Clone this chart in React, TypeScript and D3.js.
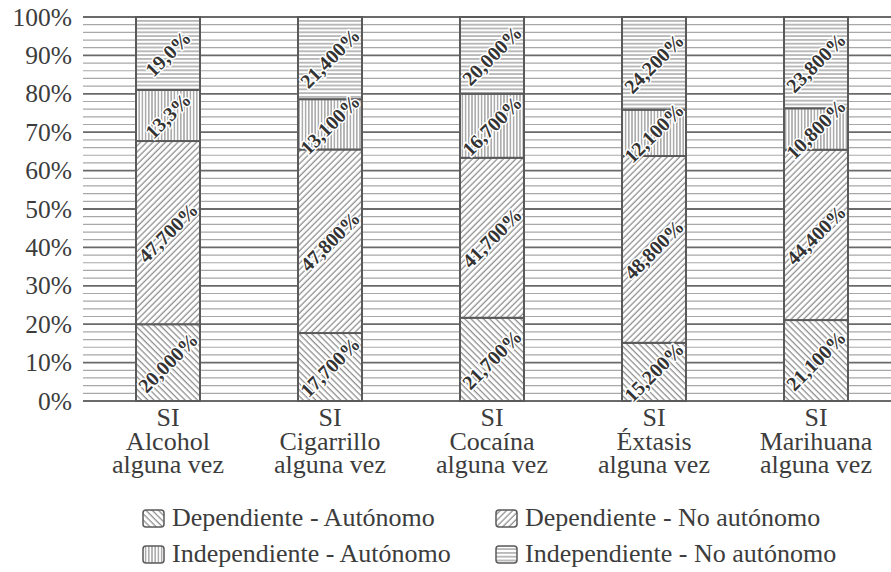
import * as d3 from 'd3';

const categories = ['Alcohol', 'Cigarrillo', 'Cocaína', 'Éxtasis', 'Marihuana'];
const catPrefix = 'SI';
const catSuffix = 'alguna vez';

const seriesNames = [
  'Dependiente - Autónomo',
  'Dependiente - No autónomo',
  'Independiente - Autónomo',
  'Independiente - No autónomo',
];

const depAut = [20.0, 17.7, 21.7, 15.2, 21.1];
const depNoAut = [47.7, 47.8, 41.7, 48.8, 44.4];
const indepAut = [13.3, 13.1, 16.7, 12.1, 10.8];
const indepNoAut = [19.0, 21.4, 20.0, 24.2, 23.8];

const depAutLabels = ['20,000%', '17,700%', '21,700%', '15,200%', '21,100%'];
const depNoAutLabels = ['47,700%', '47,800%', '41,700%', '48,800%', '44,400%'];
const indepAutLabels = ['13,3%', '13,100%', '16,700%', '12,100%', '10,800%'];
const indepNoAutLabels = ['19,0%', '21,400%', '20,000%', '24,200%', '23,800%'];

const yTicks = [0, 10, 20, 30, 40, 50, 60, 70, 80, 90, 100];

const W = 891;
const H = 572;
const FONT = "'Liberation Serif', 'Times New Roman', Times, serif";
const TEXT = '#3c3c3c';
const HATCH = '#909090';
const EDGE = '#5a5a5a';

const patternIds = ['pDepAut', 'pDepNoAut', 'pIndAut', 'pIndNoAut'];

export default function App() {
  const plot = { left: 83, right: 891, top: 17, bottom: 401 };

  const rows = categories.map((c, i) => ({
    cat: c,
    s0: depAut[i],
    s1: depNoAut[i],
    s2: indepAut[i],
    s3: indepNoAut[i],
  }));
  const keys = ['s0', 's1', 's2', 's3'];
  const labels = [depAutLabels, depNoAutLabels, indepAutLabels, indepNoAutLabels];

  const stacked = d3.stack<any>().keys(keys).offset(d3.stackOffsetExpand)(rows);

  const x = d3
    .scaleBand<string>()
    .domain(categories)
    .range([87, 897])
    .paddingInner(0.605)
    .paddingOuter(0.3025);

  const y = d3.scaleLinear().domain([0, 1]).range([plot.bottom, plot.top]);
  const yPct = d3.scaleLinear().domain([0, 100]).range([plot.bottom, plot.top]);

  const minorTicks = d3.range(0, 101, 2).filter((v) => v % 10 !== 0);

  const legendItems = [
    { i: 0, x: 143, y: 526 },
    { i: 1, x: 496, y: 526 },
    { i: 2, x: 143, y: 562 },
    { i: 3, x: 496, y: 562 },
  ];

  const txt = { fontFamily: FONT };

  return (
    <svg
      width={W}
      height={H}
      style={{ position: 'absolute', left: 0, top: 0, background: '#fff', fontFamily: FONT }}
    >
      <defs>
        <pattern id="pDepAut" patternUnits="userSpaceOnUse" width={4.4} height={4.4} patternTransform="rotate(-45)">
          <rect width={4.4} height={4.4} fill="#fff" />
          <line x1={2} y1={0} x2={2} y2={4.4} stroke={HATCH} strokeWidth={1.3} />
        </pattern>
        <pattern id="pDepNoAut" patternUnits="userSpaceOnUse" width={4.4} height={4.4} patternTransform="rotate(45)">
          <rect width={4.4} height={4.4} fill="#fff" />
          <line x1={2} y1={0} x2={2} y2={4.4} stroke={HATCH} strokeWidth={1.3} />
        </pattern>
        <pattern id="pIndAut" patternUnits="userSpaceOnUse" width={3.2} height={4}>
          <rect width={3.2} height={4} fill="#fff" />
          <line x1={1.6} y1={0} x2={1.6} y2={4} stroke={HATCH} strokeWidth={1.2} />
        </pattern>
        <pattern id="pIndNoAut" patternUnits="userSpaceOnUse" width={4} height={3.8}>
          <rect width={4} height={3.8} fill="#fff" />
          <line x1={0} y1={1.9} x2={4} y2={1.9} stroke={HATCH} strokeWidth={1.2} />
        </pattern>
      </defs>

      {/* background grid */}
      {minorTicks.map((t) => (
        <line
          key={'m' + t}
          x1={plot.left}
          x2={plot.right}
          y1={yPct(t)}
          y2={yPct(t)}
          stroke="#a8a8a8"
          strokeWidth={1.2}
        />
      ))}
      {yTicks.map((t) => (
        <line
          key={'g' + t}
          x1={plot.left}
          x2={plot.right}
          y1={yPct(t)}
          y2={yPct(t)}
          stroke="#6a6a6a"
          strokeWidth={1.8}
        />
      ))}

      {/* y tick labels */}
      {yTicks.map((t) => (
        <text
          key={'t' + t}
          x={72}
          y={yPct(t)}
          dy="0.34em"
          textAnchor="end"
          fontSize={25.5}
          fill={TEXT}
          style={txt}
        >
          {t}%
        </text>
      ))}

      {/* bars */}
      {stacked.map((layer, li) =>
        layer.map((d, ci) => {
          const x0 = x(categories[ci])!;
          const y0 = y(d[1]);
          const y1 = y(d[0]);
          return (
            <rect
              key={`b${li}-${ci}`}
              x={x0}
              y={y0}
              width={x.bandwidth()}
              height={y1 - y0}
              fill={`url(#${patternIds[li]})`}
              stroke={EDGE}
              strokeWidth={2}
            />
          );
        })
      )}

      {/* data labels */}
      {stacked.map((layer, li) =>
        layer.map((d, ci) => {
          const cx = x(categories[ci])! + x.bandwidth() / 2;
          const cy = (y(d[0]) + y(d[1])) / 2;
          return (
            <text
              key={`l${li}-${ci}`}
              transform={`translate(${cx},${cy}) rotate(-45)`}
              textAnchor="middle"
              dy="0.35em"
              fontSize={20}
              fontWeight="bold"
              fill="#333"
              stroke="#fff"
              strokeWidth={3}
              paintOrder="stroke"
              strokeLinejoin="round"
              style={txt}
            >
              {labels[li][ci]}
            </text>
          );
        })
      )}

      {/* category labels */}
      {categories.map((c) => {
        const cx = x(c)! + x.bandwidth() / 2;
        return (
          <text key={'c' + c} x={cx} y={426} textAnchor="middle" fontSize={26} fill={TEXT} style={txt}>
            <tspan x={cx} y={426}>{catPrefix}</tspan>
            <tspan x={cx} y={450}>{c}</tspan>
            <tspan x={cx} y={473}>{catSuffix}</tspan>
          </text>
        );
      })}

      {/* legend */}
      {legendItems.map((it) => (
        <g key={'lg' + it.i}>
          <rect
            x={it.x}
            y={it.y - 16}
            width={21}
            height={17}
            rx={3}
            fill={`url(#${patternIds[it.i]})`}
            stroke={EDGE}
            strokeWidth={1.5}
          />
          <text x={it.x + 29} y={it.y} fontSize={26} fill={TEXT} style={txt}>
            {seriesNames[it.i]}
          </text>
        </g>
      ))}
    </svg>
  );
}
